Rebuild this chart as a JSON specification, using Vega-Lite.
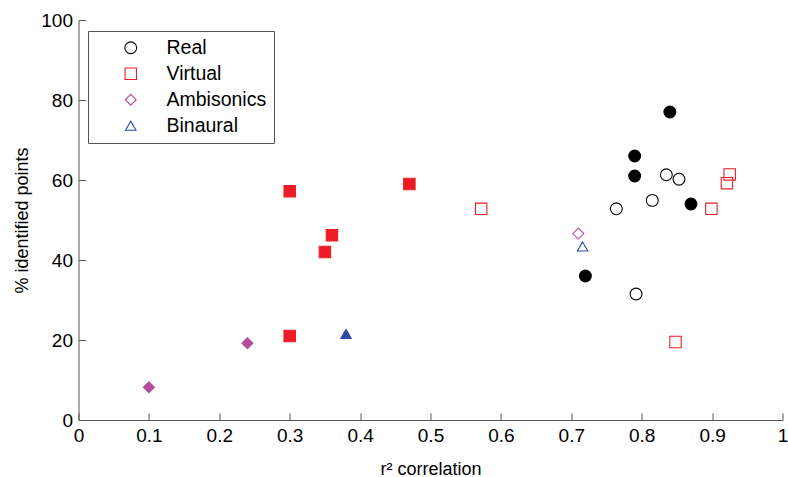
{
  "$schema": "https://vega.github.io/schema/vega-lite/v6.json",
  "width": 704,
  "height": 400,
  "autosize": {"type": "none"},
  "padding": {"left": 78.5, "top": 20, "right": 5.5, "bottom": 57},
  "background": "white",
  "config": {
    "view": {"stroke": null},
    "font": "Liberation Sans",
    "axis": {
      "grid": false,
      "domainColor": "#555555",
      "tickColor": "#555555",
      "labelColor": "#000000",
      "titleColor": "#000000",
      "labelFont": "Liberation Sans",
      "titleFont": "Liberation Sans",
      "labelFontSize": 19,
      "titleFontSize": 18,
      "titleFontWeight": "normal",
      "domainWidth": 1,
      "tickWidth": 1
    }
  },
  "data": {
    "values": [
      {"r2": 0.764, "pct": 52.8, "group": "Real", "solid": false},
      {"r2": 0.815, "pct": 54.9, "group": "Real", "solid": false},
      {"r2": 0.835, "pct": 61.3, "group": "Real", "solid": false},
      {"r2": 0.853, "pct": 60.2, "group": "Real", "solid": false},
      {"r2": 0.792, "pct": 31.5, "group": "Real", "solid": false},
      {"r2": 0.840, "pct": 77.0, "group": "Real", "solid": true},
      {"r2": 0.790, "pct": 66.0, "group": "Real", "solid": true},
      {"r2": 0.790, "pct": 61.0, "group": "Real", "solid": true},
      {"r2": 0.870, "pct": 54.0, "group": "Real", "solid": true},
      {"r2": 0.720, "pct": 36.0, "group": "Real", "solid": true},
      {"r2": 0.572, "pct": 52.8, "group": "Virtual", "solid": false},
      {"r2": 0.899, "pct": 52.8, "group": "Virtual", "solid": false},
      {"r2": 0.921, "pct": 59.2, "group": "Virtual", "solid": false},
      {"r2": 0.925, "pct": 61.4, "group": "Virtual", "solid": false},
      {"r2": 0.848, "pct": 19.5, "group": "Virtual", "solid": false},
      {"r2": 0.300, "pct": 57.2, "group": "Virtual", "solid": true},
      {"r2": 0.470, "pct": 59.0, "group": "Virtual", "solid": true},
      {"r2": 0.360, "pct": 46.2, "group": "Virtual", "solid": true},
      {"r2": 0.350, "pct": 42.0, "group": "Virtual", "solid": true},
      {"r2": 0.300, "pct": 21.0, "group": "Virtual", "solid": true},
      {"r2": 0.100, "pct": 8.2, "group": "Ambisonics", "solid": true},
      {"r2": 0.240, "pct": 19.2, "group": "Ambisonics", "solid": true},
      {"r2": 0.710, "pct": 46.6, "group": "Ambisonics", "solid": false},
      {"r2": 0.380, "pct": 21.5, "group": "Binaural", "solid": true},
      {"r2": 0.716, "pct": 43.4, "group": "Binaural", "solid": false}
    ]
  },
  "mark": {"type": "point", "filled": false, "strokeWidth": 1.1, "opacity": 1},
  "encoding": {
    "x": {
      "field": "r2", "type": "quantitative",
      "scale": {"domain": [0, 1], "nice": false, "zero": false},
      "axis": {"values": [0, 0.1, 0.2, 0.3, 0.4, 0.5, 0.6, 0.7, 0.8, 0.9, 1], "format": "~g", "tickSize": -7, "labelPadding": 13, "title": "r² correlation", "titleY": 54, "titleBaseline": "alphabetic", "labelFlush": false, "labelOverlap": false}
    },
    "y": {
      "field": "pct", "type": "quantitative",
      "scale": {"domain": [0, 100], "nice": false},
      "axis": {"values": [0, 20, 40, 60, 80, 100], "tickSize": -7, "labelPadding": 13, "title": "% identified points", "titleX": -56, "titleY": 200, "titleAngle": -90, "titleBaseline": "middle", "titleAlign": "center", "labelFlush": false, "labelOverlap": false}
    },
    "color": {
      "field": "group", "type": "nominal",
      "scale": {"domain": ["Real", "Virtual", "Ambisonics", "Binaural"], "range": ["#000000", "#ED1C24", "#B24E9E", "#2E4AA3"]},
      "legend": {
        "title": null,
        "orient": "none",
        "legendX": 9.5,
        "legendY": 11,
        "direction": "vertical",
        "strokeColor": "#555555",
        "fillColor": "white",
        "padding": 7,
        "rowPadding": 5,
        "symbolOffset": 26,
        "labelOffset": 26,
        "labelFontSize": 19.5,
        "labelFont": "Liberation Sans",
        "labelColor": "#000000",
        "symbolStrokeWidth": 1.1
      }
    },
    "shape": {
      "field": "group", "type": "nominal",
      "scale": {"domain": ["Real", "Virtual", "Ambisonics", "Binaural"], "range": ["circle", "square", "diamond", "triangle-up"]}
    },
    "size": {
      "field": "group", "type": "nominal",
      "scale": {"domain": ["Real", "Virtual", "Ambisonics", "Binaural"], "range": [140, 110, 165, 150]}
    },
    "fill": {
      "condition": [
        {"test": "datum.solid && datum.group === 'Real'", "value": "#000000"},
        {"test": "datum.solid && datum.group === 'Virtual'", "value": "#ED1C24"},
        {"test": "datum.solid && datum.group === 'Ambisonics'", "value": "#B24E9E"},
        {"test": "datum.solid && datum.group === 'Binaural'", "value": "#2E4AA3"}
      ],
      "value": "transparent"
    }
  }
}
